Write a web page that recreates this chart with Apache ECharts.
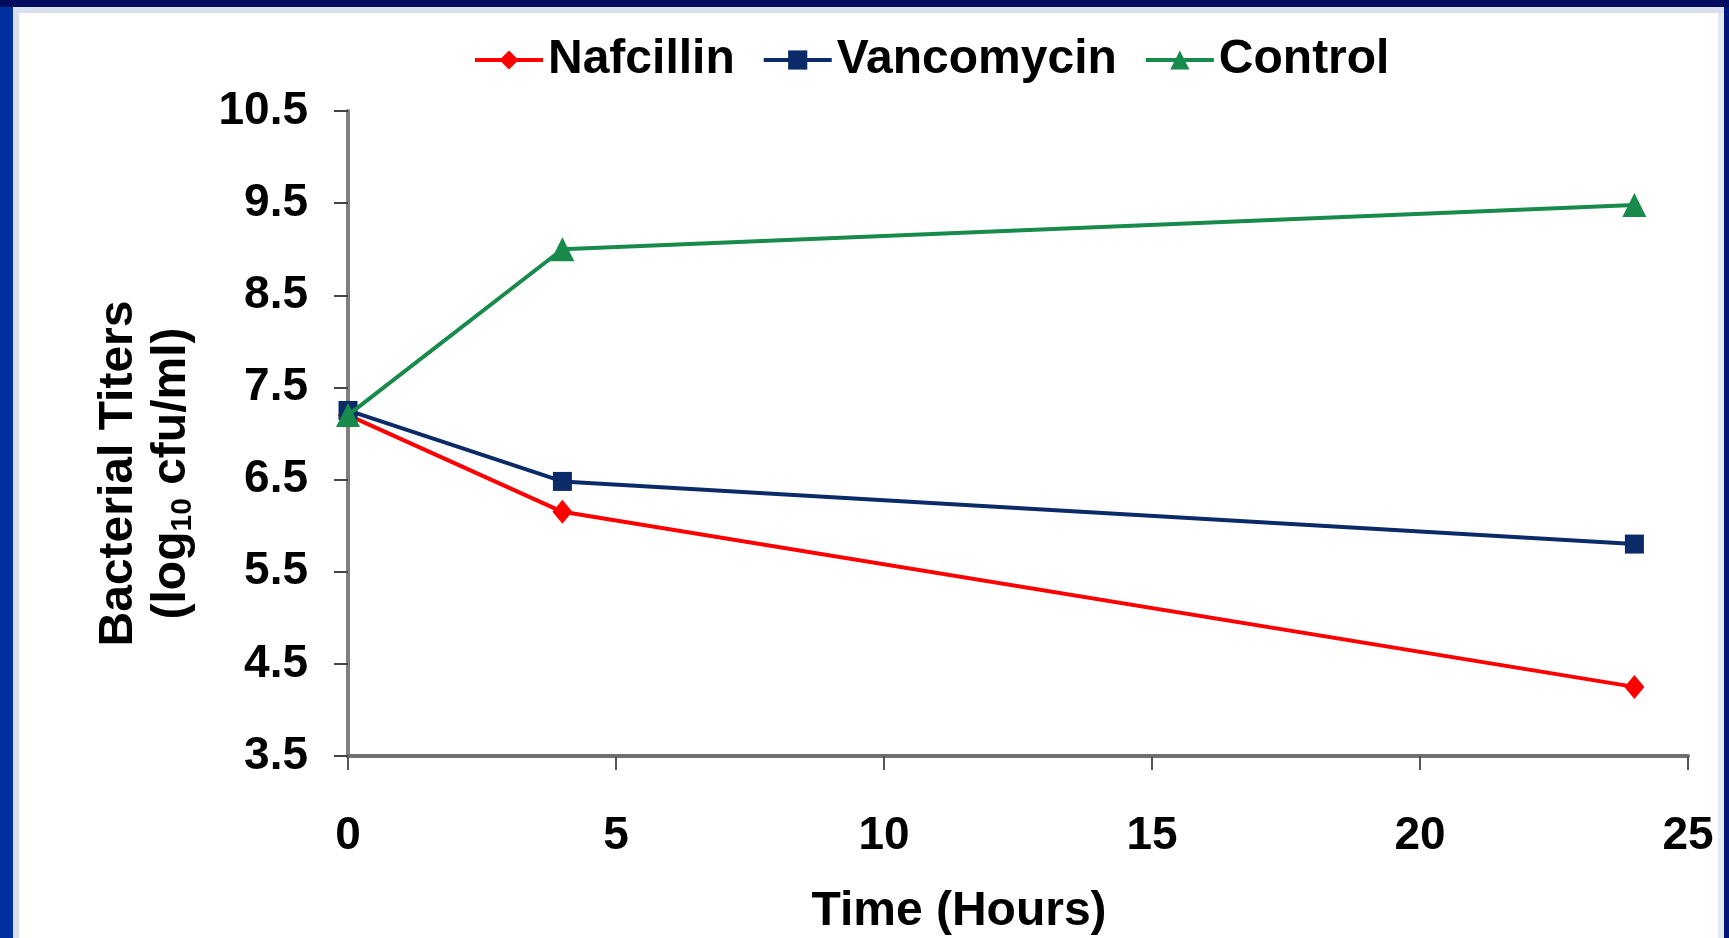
<!DOCTYPE html>
<html>
<head>
<meta charset="utf-8">
<script src="https://cdn.jsdelivr.net/npm/echarts@6/dist/echarts.min.js"></script>
<style>
html,body{margin:0;padding:0;background:#fff;}
#chart{width:1729px;height:938px;}
</style>
</head>
<body>
<div id="chart"></div>
<script>
const hours = [0, 4, 24];
const seriesNames = ['Nafcillin', 'Vancomycin', 'Control'];
const nafcillin = [7.2, 6.15, 4.25];
const vancomycin = [7.25, 6.48, 5.8];
const control = [7.2, 9.0, 9.48];
const xTicks = [0, 5, 10, 15, 20, 25];
const yTicks = [3.5, 4.5, 5.5, 6.5, 7.5, 8.5, 9.5, 10.5];

const FONT = '"Liberation Sans", Arial, sans-serif';
const pairs = vals => hours.map((h, i) => [h, vals[i]]);

const chart = echarts.init(document.getElementById('chart'), null, {renderer: 'canvas'});
chart.setOption({
  backgroundColor: '#ffffff',
  animation: false,
  textStyle: {fontFamily: FONT},
  graphic: [
    {type: 'rect', shape: {x: 0, y: 0, width: 13, height: 938}, style: {fill: '#0030a0'}, z: 100},
    {type: 'rect', shape: {x: 13, y: 13, width: 6, height: 925}, style: {fill: '#d8e0ee'}, z: 100},
    {type: 'rect', shape: {x: 0, y: 0, width: 1729, height: 7}, style: {fill: '#000d5e'}, z: 101},
    {type: 'rect', shape: {x: 13, y: 7, width: 1711, height: 6}, style: {fill: '#d8e0ee'}, z: 100},
    {type: 'rect', shape: {x: 1718, y: 13, width: 6, height: 925}, style: {fill: '#e4eaf4'}, z: 100},
    {type: 'rect', shape: {x: 1724, y: 0, width: 5, height: 938}, style: {fill: '#00187a'}, z: 100}
  ],
  legend: {
    left: 468,
    top: 30,
    itemGap: 27,
    itemWidth: 68,
    itemHeight: 24,
    lineStyle: {width: 4},
    textStyle: {fontSize: 48, fontWeight: 'bold', color: '#000', fontFamily: FONT, lineHeight: 50},
    data: seriesNames
  },
  grid: {left: 348, top: 111, right: 41, bottom: 182, containLabel: false, outerBoundsMode: 'none'},
  xAxis: {
    type: 'value',
    min: xTicks[0],
    max: xTicks[xTicks.length - 1],
    interval: 5,
    name: 'Time (Hours)',
    nameLocation: 'middle',
    nameGap: 132,
    nameTextStyle: {fontSize: 48, fontWeight: 'bold', color: '#000', fontFamily: FONT, padding: [0, 118, 0, 0]},
    axisLine: {show: true, lineStyle: {color: '#707070', width: 4}},
    axisTick: {show: true, inside: false, length: 14, lineStyle: {color: '#555', width: 2}, customValues: xTicks},
    axisLabel: {margin: 57, fontSize: 46, fontWeight: 'bold', color: '#000', fontFamily: FONT, customValues: xTicks},
    splitLine: {show: false}
  },
  yAxis: {
    type: 'value',
    min: yTicks[0],
    max: yTicks[yTicks.length - 1],
    name: '{t|Bacterial Titers}\n{t|(log}{s|10}{t| cfu/ml)}',
    nameLocation: 'middle',
    nameRotate: 90,
    nameGap: 150,
    nameTextStyle: {
      padding: [0, 80, 0, 0],
      rich: {
        t: {fontSize: 48, fontWeight: 'bold', color: '#000', fontFamily: FONT, lineHeight: 53},
        s: {fontSize: 30, fontWeight: 'bold', color: '#000', fontFamily: FONT, lineHeight: 53, verticalAlign: 'bottom'}
      }
    },
    axisLine: {show: true, lineStyle: {color: '#808080', width: 4}},
    axisTick: {show: true, inside: false, length: 14, lineStyle: {color: '#444', width: 2}, customValues: yTicks},
    axisLabel: {margin: 40, fontSize: 46, fontWeight: 'bold', color: '#000', fontFamily: FONT, customValues: yTicks,
      formatter: v => Number(v).toFixed(1)},
    splitLine: {show: false}
  },
  series: [
    {name: seriesNames[0], type: 'line', data: pairs(nafcillin), color: '#ff0000',
      lineStyle: {width: 4, color: '#ff0000'}, symbol: 'diamond', symbolSize: [20, 24],
      itemStyle: {color: '#ff0000'}, z: 2},
    {name: seriesNames[1], type: 'line', data: pairs(vancomycin), color: '#0b2a68',
      lineStyle: {width: 4, color: '#0b2a68'}, symbol: 'rect', symbolSize: 19,
      itemStyle: {color: '#0b2a68'}, z: 3},
    {name: seriesNames[2], type: 'line', data: pairs(control), color: '#178a4c',
      lineStyle: {width: 4, color: '#178a4c'}, symbol: 'triangle', symbolSize: 24,
      itemStyle: {color: '#178a4c'}, z: 4}
  ]
});
</script>
</body>
</html>
